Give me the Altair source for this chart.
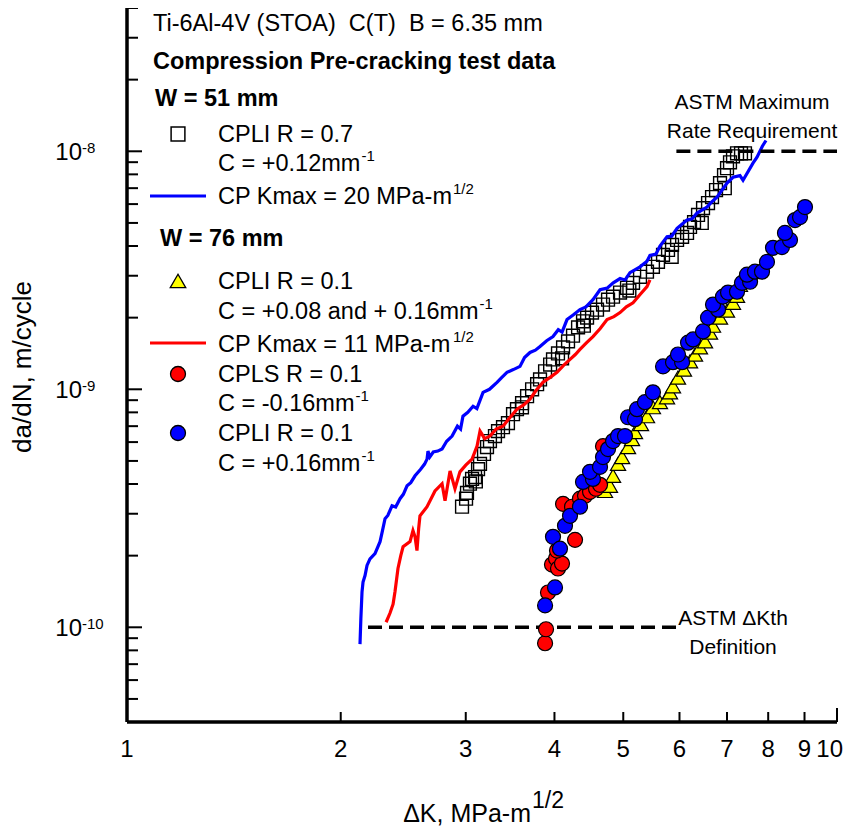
import altair as alt
import pandas as pd

# ---------------- data ----------------
# W = 51 mm, CPLI R = 0.7 (open squares)
sq_K = [2.964, 3.003, 3.012, 3.041, 3.062, 3.092, 3.122, 3.142, 3.183, 3.214, 3.245, 3.298, 3.331,
        3.385, 3.440, 3.497, 3.542, 3.601, 3.660, 3.720, 3.781, 3.817, 3.880, 3.944, 3.981, 4.046,
        4.113, 4.180, 4.248, 4.318, 4.388, 4.446, 4.518, 4.592, 4.682, 4.759, 4.837, 4.948, 5.061,
        5.161, 5.279, 5.400, 5.505, 5.596, 5.688, 5.781, 5.857, 5.953, 6.051, 6.149, 6.209, 6.290,
        6.372, 6.476, 6.582, 6.668, 6.755, 6.843, 6.932, 7.000, 7.068, 7.137, 7.231, 7.325, 7.420,
        3.10, 3.60, 4.40, 5.10, 5.85, 6.45, 6.95, 4.10]
sq_R = [3.21e-10, 3.47e-10, 3.67e-10, 4.01e-10, 4.20e-10, 4.28e-10, 4.62e-10, 4.86e-10, 5.35e-10,
        5.72e-10, 6.06e-10, 6.36e-10, 6.67e-10, 6.93e-10, 7.21e-10, 7.86e-10, 8.25e-10, 8.74e-10,
        9.35e-10, 1.00e-9, 1.05e-9, 1.10e-9, 1.19e-9, 1.27e-9, 1.335e-9, 1.415e-9, 1.50e-9, 1.59e-9,
        1.68e-9, 1.82e-9, 1.93e-9, 2.00e-9, 2.10e-9, 2.16e-9, 2.27e-9, 2.38e-9, 2.45e-9, 2.55e-9,
        2.67e-9, 2.80e-9, 2.97e-9, 3.12e-9, 3.27e-9, 3.43e-9, 3.67e-9, 3.85e-9, 4.04e-9, 4.24e-9,
        4.37e-9, 4.54e-9, 4.81e-9, 5.04e-9, 5.40e-9, 5.77e-9, 6.06e-9, 6.42e-9, 6.87e-9, 7.35e-9,
        7.94e-9, 8.49e-9, 8.99e-9, 9.53e-9, 9.81e-9, 9.81e-9, 9.81e-9,
        4.10e-10, 8.40e-10, 1.85e-9, 2.60e-9, 3.60e-9, 5.00e-9, 7.00e-9, 1.35e-9]

# CP Kmax = 20 MPa-m^1/2 (blue line)
bl_K = [2.129, 2.135, 2.143, 2.150, 2.164, 2.178, 2.199, 2.235, 2.272, 2.290, 2.309, 2.330, 2.362,
        2.390, 2.424, 2.450, 2.480, 2.510, 2.545, 2.590, 2.625, 2.646, 2.654, 2.670, 2.700, 2.740,
        2.778, 2.820, 2.870, 2.920, 2.950, 2.973, 3.020, 3.072, 3.110, 3.173, 3.240, 3.320, 3.370,
        3.429, 3.500, 3.577, 3.630, 3.695, 3.760, 3.817, 3.900, 3.981, 4.050, 4.100, 4.166, 4.250,
        4.345, 4.430, 4.532, 4.637, 4.744, 4.840, 4.948, 5.030, 5.110, 5.279, 5.400, 5.452, 5.560,
        5.632, 5.762, 5.850, 5.953, 6.149, 6.250, 6.351, 6.560, 6.650, 6.776, 7.000, 7.137, 7.300,
        7.373, 7.615, 7.715, 7.850, 7.943]
bl_R = [8.5e-11, 1.09e-10, 1.41e-10, 1.55e-10, 1.65e-10, 1.82e-10, 1.94e-10, 2.04e-10, 2.29e-10,
        2.55e-10, 2.86e-10, 2.95e-10, 3.24e-10, 3.20e-10, 3.47e-10, 3.62e-10, 3.93e-10, 4.05e-10,
        4.33e-10, 4.60e-10, 4.85e-10, 5.09e-10, 5.50e-10, 5.20e-10, 5.45e-10, 5.50e-10, 5.61e-10,
        6.05e-10, 6.36e-10, 7.00e-10, 6.80e-10, 7.71e-10, 8.00e-10, 8.49e-10, 8.30e-10, 9.71e-10,
        1.00e-9, 1.07e-9, 1.12e-9, 1.178e-9, 1.21e-9, 1.248e-9, 1.36e-9, 1.428e-9, 1.46e-9,
        1.513e-9, 1.60e-9, 1.666e-9, 1.78e-9, 1.74e-9, 1.963e-9, 2.05e-9, 2.162e-9, 2.22e-9,
        2.379e-9, 2.62e-9, 2.66e-9, 2.80e-9, 2.92e-9, 2.88e-9, 3.09e-9, 3.27e-9, 3.45e-9, 3.65e-9,
        3.70e-9, 4.00e-9, 4.37e-9, 4.40e-9, 4.75e-9, 5.14e-9, 5.20e-9, 5.50e-9, 5.83e-9, 6.10e-9,
        6.42e-9, 7.35e-9, 7.78e-9, 7.90e-9, 7.56e-9, 8.91e-9, 9.44e-9, 1.05e-8, 1.11e-8]

# CP Kmax = 11 MPa-m^1/2 (red line)
rl_K = [2.317, 2.346, 2.370, 2.385, 2.408, 2.430, 2.448, 2.504, 2.528, 2.545, 2.561, 2.575, 2.586,
        2.646, 2.715, 2.778, 2.805, 2.851, 2.897, 2.944, 3.000, 3.062, 3.112, 3.142, 3.190, 3.245,
        3.310, 3.385, 3.460, 3.542, 3.620, 3.695, 3.770, 3.854, 3.940, 4.033, 4.120, 4.207, 4.280,
        4.345, 4.440, 4.532, 4.640, 4.744, 4.850, 4.948, 5.050, 5.161, 5.280, 5.400, 5.452]
rl_R = [1.05e-10, 1.145e-10, 1.25e-10, 1.415e-10, 1.766e-10, 2.00e-10, 2.18e-10, 2.29e-10, 2.55e-10,
        2.40e-10, 2.10e-10, 2.60e-10, 2.94e-10, 3.21e-10, 3.74e-10, 4.01e-10, 3.40e-10, 4.54e-10,
        3.82e-10, 4.50e-10, 4.80e-10, 5.09e-10, 5.77e-10, 6.67e-10, 6.20e-10, 6.36e-10, 6.80e-10,
        7.00e-10, 7.60e-10, 8.25e-10, 8.60e-10, 9.08e-10, 9.90e-10, 1.07e-9, 1.12e-9, 1.178e-9,
        1.26e-9, 1.335e-9, 1.40e-9, 1.47e-9, 1.57e-9, 1.666e-9, 1.80e-9, 1.963e-9, 2.02e-9, 2.10e-9,
        2.22e-9, 2.31e-9, 2.50e-9, 2.70e-9, 2.885e-9]

# W = 76 mm, CPLI R = 0.1 (yellow triangles)
tri_K = [4.712, 4.789, 4.837, 4.916, 4.981, 5.078, 5.144, 5.194, 5.296, 5.400, 5.505, 5.632, 5.762,
         5.818, 5.875, 5.971, 6.088, 6.209, 6.310, 6.412, 6.518, 6.625, 6.689, 6.843, 7.000, 7.137,
         7.231, 7.300]
tri_R = [3.74e-10, 3.93e-10, 4.33e-10, 4.86e-10, 5.19e-10, 5.72e-10, 6.18e-10, 6.61e-10, 7.14e-10,
         7.71e-10, 8.41e-10, 8.83e-10, 9.26e-10, 9.71e-10, 1.03e-9, 1.12e-9, 1.21e-9, 1.31e-9,
         1.40e-9, 1.50e-9, 1.59e-9, 1.73e-9, 1.85e-9, 2.00e-9, 2.14e-9, 2.31e-9, 2.47e-9, 2.75e-9]

# CPLS R = 0.1, C = -0.16 (red circles)
rc_K = [3.880, 3.892, 3.917, 3.968, 4.020, 4.046, 4.099, 4.033, 4.276, 4.113, 4.235, 4.345, 4.417,
        4.489, 4.577, 4.637, 4.682]
rc_R = [8.57e-11, 9.81e-11, 1.40e-10, 1.835e-10, 1.945e-10, 1.766e-10, 1.853e-10, 2.10e-10, 2.33e-10,
        3.30e-10, 3.21e-10, 3.47e-10, 3.57e-10, 3.71e-10, 3.82e-10, 3.97e-10, 5.77e-10]

# CPLI R = 0.1, C = +0.16 (blue circles)
bc_K = [3.880, 4.007, 3.981, 4.072, 4.139, 4.207, 4.345, 4.388, 4.532, 4.489, 4.637, 4.682, 4.759,
        4.837, 4.916, 5.028, 5.078, 5.194, 5.227, 5.364, 5.505, 5.688, 5.875, 6.051, 5.971, 6.169,
        6.270, 6.476, 6.582, 6.799, 6.689, 6.909, 7.023, 7.231, 7.348, 7.543, 7.469, 7.665, 7.841,
        7.968, 8.126, 8.366, 8.586, 8.447, 8.727, 8.870, 9.014]
bc_R = [1.236e-10, 1.47e-10, 2.40e-10, 2.14e-10, 2.67e-10, 2.94e-10, 3.21e-10, 4.08e-10, 4.20e-10,
        4.50e-10, 4.72e-10, 5.19e-10, 5.61e-10, 6.06e-10, 6.36e-10, 6.36e-10, 7.63e-10, 7.49e-10,
        8.25e-10, 8.83e-10, 9.71e-10, 1.248e-9, 1.30e-9, 1.30e-9, 1.40e-9, 1.57e-9, 1.62e-9,
        1.75e-9, 2.00e-9, 2.16e-9, 2.27e-9, 2.45e-9, 2.55e-9, 2.57e-9, 2.80e-9, 2.83e-9, 3.03e-9,
        3.12e-9, 3.12e-9, 3.43e-9, 3.93e-9, 3.96e-9, 4.24e-9, 4.54e-9, 5.14e-9, 5.29e-9, 5.83e-9]

# ASTM reference lines
astm_max_K = [5.94, 10.0]
astm_max_R = [1e-8, 1e-8]
astm_th_K = [2.185, 5.97]
astm_th_R = [1e-10, 1e-10]

# axis ticks
x_tick_vals = [2, 3, 4, 5, 6, 7, 8, 9]
x_end_tick = [10]
x_label_vals = [1, 2, 3, 4, 5, 6, 7, 8, 9]
x_label_text = ["1", "2", "3", "4", "5", "6", "7", "8", "9"]
x_end_label = "10"
y_major = [1e-10, 1e-9, 1e-8]
y_major_exp = ["-10", "-9", "-8"]
y_minor = [4e-11, 5e-11, 6e-11, 7e-11, 8e-11, 9e-11,
           2e-10, 3e-10, 4e-10, 5e-10, 6e-10, 7e-10, 8e-10, 9e-10,
           2e-9, 3e-9, 4e-9, 5e-9, 6e-9, 7e-9, 8e-9, 9e-9,
           2e-8, 3e-8, 4e-8]

# ---------------- chart ----------------
W, H = 710, 714
FONT = "Liberation Sans"
LS = 23.5  # legend text size
NB = "\u00a0"

xs = alt.Scale(type="log", domain=[1, 10], nice=False)
ys = alt.Scale(type="log", domain=[4e-11, 4e-8], nice=False)
X = alt.X("K:Q", scale=xs, axis=None)
Y = alt.Y("R:Q", scale=ys, axis=None)


def df(k, r):
    return pd.DataFrame({"K": k, "R": r, "i": list(range(len(k)))})


layers = []

# squares
layers.append(alt.Chart(df(sq_K, sq_R)).mark_point(
    shape="square", size=165, filled=False, stroke="black", strokeWidth=1.4, opacity=1
).encode(x=X, y=Y))

# lines
layers.append(alt.Chart(df(bl_K, bl_R)).mark_line(color="#0000FF", strokeWidth=3.2).encode(
    x=X, y=Y, order="i:Q"))
layers.append(alt.Chart(df(rl_K, rl_R)).mark_line(color="#FF0000", strokeWidth=3.2).encode(
    x=X, y=Y, order="i:Q"))

# ASTM dashed lines
for k, r in [(astm_max_K, astm_max_R), (astm_th_K, astm_th_R)]:
    layers.append(alt.Chart(df(k, r)).mark_line(
        color="black", strokeWidth=3.5, strokeDash=[14, 7]).encode(x=X, y=Y))

# triangles, red circles, blue circles
layers.append(alt.Chart(df(tri_K, tri_R)).mark_point(
    shape="triangle-up", size=230, filled=True, fill="#FFFF00", stroke="black",
    strokeWidth=1.2, opacity=1).encode(x=X, y=Y))
layers.append(alt.Chart(df(rc_K, rc_R)).mark_point(
    shape="circle", size=225, filled=True, fill="#FF0000", stroke="black",
    strokeWidth=1.2, opacity=1).encode(x=X, y=Y))
layers.append(alt.Chart(df(bc_K, bc_R)).mark_point(
    shape="circle", size=225, filled=True, fill="#0000FF", stroke="black",
    strokeWidth=1.2, opacity=1).encode(x=X, y=Y))

# axis domains
one = pd.DataFrame({"a": [0]})
layers.append(alt.Chart(one).mark_rule(color="black", strokeWidth=3.5).encode(
    x=alt.value(0), y=alt.value(0), y2=alt.value(H)))
layers.append(alt.Chart(one).mark_rule(color="black", strokeWidth=3.5).encode(
    x=alt.value(0), x2=alt.value(W), y=alt.value(H)))

# y ticks (inward)
layers.append(alt.Chart(pd.DataFrame({"R": y_major})).mark_rule(color="black", strokeWidth=2).encode(
    y=Y, x=alt.value(0), x2=alt.value(15)))
layers.append(alt.Chart(pd.DataFrame({"R": y_minor})).mark_rule(color="black", strokeWidth=2).encode(
    y=Y, x=alt.value(0), x2=alt.value(11)))
# x ticks (inward)
layers.append(alt.Chart(pd.DataFrame({"K": x_tick_vals})).mark_rule(color="black", strokeWidth=2).encode(
    x=X, y=alt.value(H), y2=alt.value(H - 10)))
layers.append(alt.Chart(pd.DataFrame({"K": x_end_tick})).mark_rule(color="black", strokeWidth=2).encode(
    x=X, y=alt.value(H), y2=alt.value(H - 14)))

# tick labels
layers.append(alt.Chart(pd.DataFrame({"K": x_label_vals, "t": x_label_text})).mark_text(
    font=FONT, fontSize=24, align="center", baseline="alphabetic", color="black").encode(
    x=X, y=alt.value(749), text="t:N"))
ylab = pd.DataFrame({"R": y_major, "e": y_major_exp, "b": ["10"] * 3})
layers.append(alt.Chart(ylab).mark_text(
    font=FONT, fontSize=24, align="right", baseline="alphabetic", dy=9, color="black").encode(
    y=Y, x=alt.value(-45), text="b:N"))
layers.append(alt.Chart(ylab).mark_text(
    font=FONT, fontSize=15, align="left", baseline="alphabetic", dy=2, color="black").encode(
    y=Y, x=alt.value(-45), text="e:N"))


def txt(s, x, y, size=LS, weight="normal", align="left", angle=0, baseline="alphabetic"):
    return alt.Chart(pd.DataFrame({"t": [s]})).mark_text(
        font=FONT, fontSize=size, fontWeight=weight, align=align, baseline=baseline,
        angle=angle, color="black").encode(x=alt.value(x), y=alt.value(y), text="t:N")


# last x tick label, kept inside the page edge
layers.append(txt(x_end_label, W + 6, 749, size=24, align="right"))

# axis titles
layers.append(txt("ΔK, MPa-m", 404, 814, size=25, align="right"))
layers.append(txt("1/2", 405, 800, size=23))
layers.append(txt("da/dN, m/cycle", -104, 359, size=26, align="center", angle=270, baseline="middle"))

# legend / header texts
layers.append(txt("Ti-6Al-4V (STOA)" + NB + NB + "C(T)" + NB + NB + "B = 6.35 mm", 26, 23))
layers.append(txt("Compression Pre-cracking test data", 26, 61, weight="bold"))
layers.append(txt("W = 51 mm", 28, 98, weight="bold"))
layers.append(txt("CPLI R = 0.7", 91, 134))
layers.append(txt("C = +0.12mm", 91, 163))
layers.append(txt("-1", 234.5, 152.5, size=15))
layers.append(txt("CP Kmax = 20 MPa-m", 91, 196))
layers.append(txt("1/2", 326, 185.5, size=15))
layers.append(txt("W = 76 mm", 33, 238, weight="bold"))
layers.append(txt("CPLI R = 0.1", 91, 281))
layers.append(txt("C = +0.08 and + 0.16mm", 91, 311))
layers.append(txt("-1", 352.5, 300.5, size=15))
layers.append(txt("CP Kmax = 11 MPa-m", 91, 344))
layers.append(txt("1/2", 326, 333.5, size=15))
layers.append(txt("CPLS R = 0.1", 91, 374))
layers.append(txt("C = -0.16mm", 91, 403))
layers.append(txt("-1", 228.5, 392.5, size=15))
layers.append(txt("CPLI R = 0.1", 91, 433))
layers.append(txt("C = +0.16mm", 91, 463))
layers.append(txt("-1", 234.5, 452.5, size=15))

# legend symbols
layers.append(alt.Chart(one).mark_point(shape="square", size=190, filled=False, stroke="black",
                                        strokeWidth=1.5, opacity=1).encode(
    x=alt.value(51), y=alt.value(126)))
layers.append(alt.Chart(one).mark_rule(color="#0000FF", strokeWidth=3).encode(
    x=alt.value(23), x2=alt.value(79), y=alt.value(188)))
layers.append(alt.Chart(one).mark_point(shape="triangle-up", size=240, filled=True, fill="#FFFF00",
                                        stroke="black", strokeWidth=1.3, opacity=1).encode(
    x=alt.value(51), y=alt.value(273)))
layers.append(alt.Chart(one).mark_rule(color="#FF0000", strokeWidth=3).encode(
    x=alt.value(23), x2=alt.value(79), y=alt.value(335)))
layers.append(alt.Chart(one).mark_point(shape="circle", size=225, filled=True, fill="#FF0000",
                                        stroke="black", strokeWidth=1.3, opacity=1).encode(
    x=alt.value(51), y=alt.value(366)))
layers.append(alt.Chart(one).mark_point(shape="circle", size=225, filled=True, fill="#0000FF",
                                        stroke="black", strokeWidth=1.3, opacity=1).encode(
    x=alt.value(51), y=alt.value(425)))

# ASTM annotations
layers.append(txt("ASTM Maximum", 625, 101, size=21, align="center"))
layers.append(txt("Rate Requirement", 625, 130, size=21, align="center"))
layers.append(txt("ASTM ΔKth", 606, 617, size=21, align="center"))
layers.append(txt("Definition", 606, 646, size=21, align="center"))

chart = alt.layer(*layers).properties(
    width=W, height=H,
    padding={"left": 119, "top": 0, "right": 7, "bottom": 106},
    autosize=alt.AutoSizeParams(type="none"),
).configure_view(stroke=None)

chart.save("out.html", embed_options={"renderer": "svg", "actions": False})
